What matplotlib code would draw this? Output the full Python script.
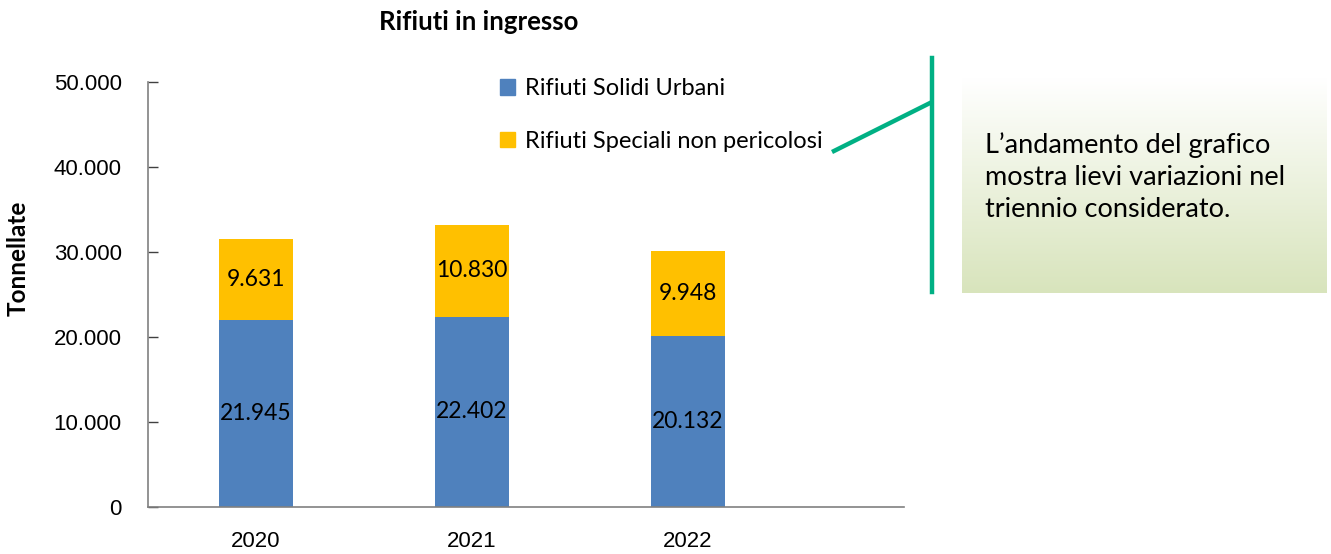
import matplotlib
matplotlib.use("Agg")
import matplotlib.pyplot as plt
import numpy as np
from matplotlib.lines import Line2D
from matplotlib.patches import Patch

years = ["2020", "2021", "2022"]
rsu = [21945, 22402, 20132]
rsnp = [9631, 10830, 9948]
yticks = [0, 10000, 20000, 30000, 40000, 50000]
ytick_labels = ["0", "10.000", "20.000", "30.000", "40.000", "50.000"]

blue = "#4F81BD"
yellow = "#FFC000"
green = "#00B084"

W, H = 1331, 554
fig = plt.figure(figsize=(W / 100, H / 100), dpi=100)

def fx(px):
    return px / W

def fy(py):
    return 1 - py / H

ax_w = fx(904) - fx(148)
ax = fig.add_axes([fx(148), fy(507), ax_w, fy(82) - fy(507)])
x = np.arange(len(years))
bw = 0.347
ax.bar(x, rsu, width=bw, color=blue, label="Rifiuti Solidi Urbani")
ax.bar(x, rsnp, width=bw, bottom=rsu, color=yellow, label="Rifiuti Speciali non pericolosi")

lab_font = dict(family="Lato", fontsize=16.5, color="black")
for i in range(len(years)):
    ax.text(x[i], rsu[i] / 2, f"{rsu[i]:,}".replace(",", "."), ha="center", va="center", **lab_font)
    ax.text(x[i], rsu[i] + rsnp[i] / 2, f"{rsnp[i]:,}".replace(",", "."), ha="center", va="center", **lab_font)

ax.set_xlim(-0.5, 3.0)
ax.set_ylim(0, 50000)
ax.set_yticks(yticks)
ax.set_yticklabels(ytick_labels, family="Liberation Sans", fontsize=16)
ax.set_xticks(x)
ax.set_xticklabels(years, family="Liberation Sans", fontsize=16)
ax.tick_params(axis="y", direction="in", length=7, color="#404040", width=1, pad=19)
ax.tick_params(axis="x", length=0, pad=17)
for s in ["top", "right"]:
    ax.spines[s].set_visible(False)
for s in ["left", "bottom"]:
    ax.spines[s].set_color("#808080")
    ax.spines[s].set_linewidth(1.2)

ax.set_ylabel("Tonnellate", family="Lato", fontweight="bold", fontsize=17.5, va="center")
ax.yaxis.set_label_coords((18 - 148) / 756, (507 - 258) / 425)
fig.text(fx(479), fy(22), "Rifiuti in ingresso", family="Lato", fontweight="bold",
         fontsize=18.5, ha="center", va="center")

handles = [Patch(color=blue), Patch(color=yellow)]
leg = fig.legend(handles, ["Rifiuti Solidi Urbani", "Rifiuti Speciali non pericolosi"],
                 loc="upper left", bbox_to_anchor=(fx(500), fy(78)), frameon=False,
                 prop=dict(family="Lato", size=17), handlelength=0.65, handleheight=0.65,
                 handletextpad=0.4, labelspacing=1.35, borderpad=0, borderaxespad=0)

# callout lines
fig.add_artist(Line2D([fx(932), fx(932)], [fy(58), fy(292)], color=green, lw=3.2,
                      transform=fig.transFigure))
fig.add_artist(Line2D([fx(932), fx(832)], [fy(102), fy(152)], color=green, lw=3.2,
                      transform=fig.transFigure, solid_capstyle="butt"))

# gradient box
bax = fig.add_axes([fx(962), fy(293), fx(1326) - fx(962), fy(78) - fy(293)])
top = np.array([1.0, 1.0, 1.0])
bot = np.array([0xD8, 0xE4, 0xBC]) / 255
t = np.linspace(0, 1, 256)[:, None]
grad = top[None, :] * (1 - t) + bot[None, :] * t
bax.imshow(grad[:, None, :], aspect="auto", extent=[0, 1, 0, 1])
bax.set_axis_off()

fig.text(fx(985), fy(177), "L\u2019andamento del grafico\nmostra lievi variazioni nel\ntriennio considerato.",
         family="Lato", fontsize=19.5, ha="left", va="center", linespacing=1.36)

fig.savefig("out.png", dpi=100)
